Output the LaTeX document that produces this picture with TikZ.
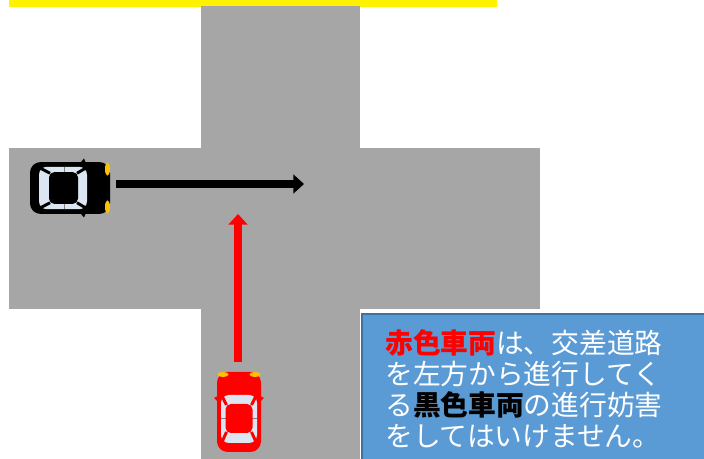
\documentclass[tikz,border=0pt]{standalone}
\usepackage{fontspec}
\usetikzlibrary{arrows.meta}
\newfontfamily\jp{Noto Sans CJK JP}
\definecolor{road}{HTML}{A6A6A6}
\definecolor{glass}{HTML}{DCE6F2}
\definecolor{lamp}{HTML}{FFC000}
\definecolor{notefill}{HTML}{5B9BD5}
\definecolor{noteline}{HTML}{41719C}
\tikzset{
  pics/car/.style={code={
    % body, front to +x
    \fill[#1, rounded corners=8] (-40,-22) rectangle (40,22);
    \fill[lamp] (37.5,-16) ellipse (2.5 and 5.5);
    \fill[lamp] (37.5,16) ellipse (2.5 and 5.5);
    % mirrors
    \fill[#1] (10,-21) -- (14,-25) -- (16,-21) -- cycle;
    \fill[#1] (10,21) -- (14,25) -- (16,21) -- cycle;
    % windows and roof
    \fill[glass, rounded corners=6] (-31,-18) rectangle (17,18);
    \draw[gray, line width=0.4] (-6,-18) -- (-6,18);
    \fill[#1, rounded corners=4] (-21,-13.5) rectangle (8,13.5);
    \draw[#1, line width=2.2] (-20,-12.5) -- (-30,-17) (-20,12.5) -- (-30,17)
      (7,-12.5) -- (16,-17) (7,12.5) -- (16,17);
  }},
  movearrow/.style={line width=6pt, -{Triangle[length=8pt,width=14pt]}}
}
\begin{document}
\begin{tikzpicture}[x=0.75pt,y=-0.75pt]
  \useasboundingbox (0,0) rectangle (704,459);
  \clip (0,0) rectangle (704,459);

  % yellow strip on top
  \fill[yellow] (9,0) rectangle (497,7);

  % crossing
  \fill[road] (201,6) rectangle (360,462);
  \fill[road] (9,148) rectangle (540,309);

  % cars
  \pic[yscale=1.18] at (70,188) {car=black};
  \pic[rotate=90] at (239,412) {car=red};

  \coordinate (blackfront) at (116,184);
  \coordinate (blackgoal) at (304,184);
  \coordinate (redfront) at (238,362);
  \coordinate (redgoal) at (238,214);
  \draw[movearrow, black] (blackfront) -- (blackgoal);
  \draw[movearrow, red] (redfront) -- (redgoal);

  % note box
  \draw[noteline, fill=notefill, line width=1.5] (362,314) rectangle (708,464);
  \node[anchor=north west, inner sep=0, align=left, text=white,
        font=\jp\fontsize{20.8}{23.3}\selectfont] (note) at (385,329)
    {{\bfseries\color{red}赤色車両}は、交差道路\\
     を左方から進行してく\\
     る{\bfseries\color{black}黒色車両}の進行妨害\\
     をしてはいけません。};
\end{tikzpicture}
\end{document}
